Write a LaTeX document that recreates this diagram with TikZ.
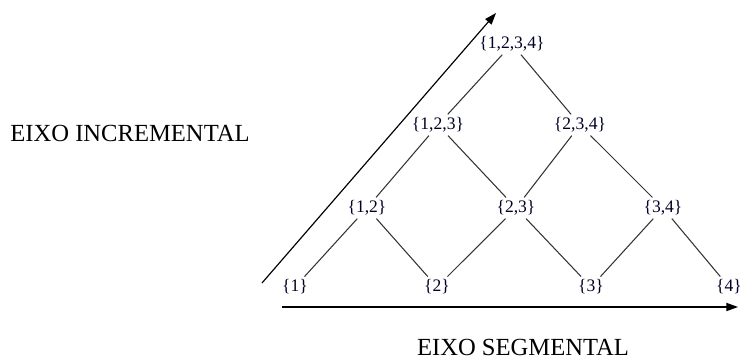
\documentclass[tikz,border=0pt]{standalone}
\usepackage{fontspec}
\setmainfont{Liberation Serif}
\usetikzlibrary{arrows.meta}
\tikzset{
  subset/.style={inner sep=2.5pt, font=\fontsize{15}{17}\selectfont, text=black!85!blue},
  axislabel/.style={font=\fontsize{21}{24}\selectfont},
  link/.style={line width=0.9pt, black!80},
  axis/.style={line width=1pt, -{Triangle[length=10pt, width=7pt]}}
}
\begin{document}
\begin{tikzpicture}[x=0.03cm, y=-0.03cm]
  \useasboundingbox (0,0) rectangle (744,360);
  % subsets, one row per level
  \node[subset] (s1234) at (512,44) {\{1,2,3,4\}};
  \node[subset] (s123) at (438,125) {\{1,2,3\}};
  \node[subset] (s234) at (580,125) {\{2,3,4\}};
  \node[subset] (s12) at (367,208) {\{1,2\}};
  \node[subset] (s23) at (516,208) {\{2,3\}};
  \node[subset] (s34) at (663,208) {\{3,4\}};
  \node[subset] (s1) at (295,287) {\{1\}};
  \node[subset] (s2) at (437,287) {\{2\}};
  \node[subset] (s3) at (591,287) {\{3\}};
  \node[subset] (s4) at (729,287) {\{4\}};
  % lattice edges
  \draw[link] (s1) -- (s12) -- (s2) -- (s23) -- (s3) -- (s34) -- (s4);
  \draw[link] (s12) -- (s123) -- (s23) -- (s234) -- (s34);
  \draw[link] (s123) -- (s1234) -- (s234);
  % axes
  \coordinate (incstart) at (262,283);
  \coordinate (incend) at (496,13);
  \coordinate (segstart) at (282,307);
  \coordinate (segend) at (738,307);
  \draw[axis] (incstart) -- (incend);
  \draw[axis] (segstart) -- (segend);
  \node[axislabel] (inclabel) at (130,133) {EIXO INCREMENTAL};
  \node[axislabel] (seglabel) at (523,347) {EIXO SEGMENTAL};
\end{tikzpicture}
\end{document}
